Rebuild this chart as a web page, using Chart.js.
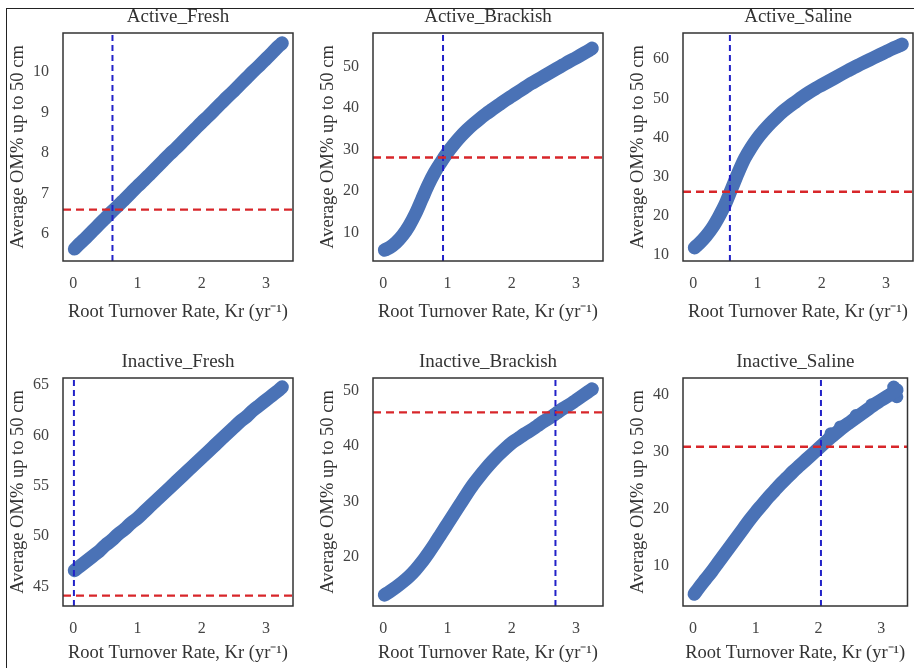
<!DOCTYPE html>
<html>
<head>
<meta charset="utf-8">
<script src="https://cdn.jsdelivr.net/npm/chart.js@4.4.1/dist/chart.umd.min.js"></script>
<style>
  body { margin: 0; background: #fff; }
  #fig { position: relative; width: 914px; height: 668px; overflow: hidden; }
  #frame { position: absolute; left: 6px; top: 8px; width: 960px; height: 700px;
           border-left: 1.5px solid #222; border-top: 1.5px solid #222; }
  canvas { position: absolute; }
</style>
</head>
<body>
<div id="fig">
  <div id="frame"></div>
</div>
<script>
// Root turnover rate (x), shared by all panels
const kr = [0.02, 0.1, 0.2, 0.3, 0.4, 0.5, 0.6, 0.7, 0.8, 0.9, 1.0, 1.1, 1.2, 1.3, 1.4, 1.5, 1.6,
            1.7, 1.8, 1.9, 2.0, 2.1, 2.2, 2.3, 2.4, 2.5, 2.6, 2.7, 2.8, 2.9, 3.0, 3.1, 3.2, 3.25];

// Average OM% up to 50 cm, one array per panel
const activeFresh = [5.63, 5.76, 5.91, 6.07, 6.23, 6.39, 6.55, 6.70, 6.86, 7.02, 7.18, 7.33, 7.49, 7.65,
                     7.81, 7.97, 8.12, 8.28, 8.44, 8.60, 8.76, 8.91, 9.07, 9.23, 9.39, 9.54, 9.70, 9.86,
                     10.02, 10.17, 10.33, 10.49, 10.65, 10.72];
const activeBrackish = [5.8, 6.4, 7.6, 9.3, 11.6, 14.5, 18.0, 21.5, 24.5, 27.0, 29.3, 31.3, 33.1, 34.7,
                        36.1, 37.4, 38.6, 39.7, 40.8, 41.9, 42.9, 43.9, 44.9, 45.9, 46.8, 47.7, 48.6,
                        49.5, 50.4, 51.3, 52.1, 53.0, 53.9, 54.4];
const activeSaline = [11.8, 13.0, 14.8, 17.0, 19.8, 23.0, 27.0, 31.0, 34.6, 37.4, 39.8, 41.8, 43.6, 45.2,
                      46.7, 48.0, 49.2, 50.4, 51.5, 52.5, 53.4, 54.3, 55.2, 56.1, 57.0, 57.9, 58.7, 59.5,
                      60.3, 61.1, 61.9, 62.7, 63.4, 63.8];
const inactiveFresh = [46.6, 47.0, 47.5, 48.0, 48.5, 49.1, 49.6, 50.2, 50.7, 51.3, 51.8, 52.4, 53.0, 53.6,
                       54.2, 54.8, 55.4, 56.0, 56.6, 57.2, 57.8, 58.4, 59.0, 59.6, 60.2, 60.8, 61.4, 61.9,
                       62.5, 63.0, 63.5, 64.0, 64.5, 64.8];
const inactiveBrackish = [13.2, 13.8, 14.6, 15.5, 16.5, 17.7, 19.1, 20.7, 22.4, 24.2, 26.0, 27.8, 29.6, 31.4,
                          33.1, 34.6, 36.0, 37.3, 38.5, 39.6, 40.6, 41.4, 42.2, 42.9, 43.7, 44.5, 45.2, 46.0,
                          46.8, 47.5, 48.3, 49.1, 49.9, 50.3];
const inactiveSaline = [5.0, 6.2, 7.6, 9.0, 10.5, 12.0, 13.5, 15.0, 16.5, 18.0, 19.4, 20.7, 22.0, 23.2,
                        24.4, 25.5, 26.6, 27.6, 28.6, 29.6, 30.6, 31.6, 32.6, 33.5, 34.4, 35.2, 36.0, 36.8,
                        37.6, 38.4, 39.1, 39.8, 40.5, 40.9];

// a few scattered runs standing off the main band (Inactive_Saline)
const salineSpreadKr = [2.2, 2.35, 2.6, 2.85, 3.2, 3.25];
const salineSpreadOM = [33.2, 34.4, 36.4, 38.3, 41.4, 39.7];

const panelTitles = ['Active_Fresh', 'Active_Brackish', 'Active_Saline',
                     'Inactive_Fresh', 'Inactive_Brackish', 'Inactive_Saline'];
const panelSeries = [activeFresh, activeBrackish, activeSaline, inactiveFresh, inactiveBrackish, inactiveSaline];

// dashed reference lines: red = OM level, blue = turnover rate
const refLevel = [6.6, 28.1, 26.1, 44.1, 46.1, 30.9];
const refRate = [0.61, 0.93, 0.57, 0.01, 2.68, 2.04];

const xTicks = [0, 1, 2, 3];
const yTicks = [
  [6, 7, 8, 9, 10],
  [10, 20, 30, 40, 50],
  [10, 20, 30, 40, 50, 60],
  [45, 50, 55, 60, 65],
  [20, 30, 40, 50],
  [10, 20, 30, 40]
];
const yRange = [[5.33, 10.97], [3.15, 58.1], [8.4, 66.7], [43.07, 65.7], [11.2, 52.3], [2.9, 43.0]];
const xRange = [-0.16, 3.42];

const xTitle = 'Root Turnover Rate, Kr (yr\u207B\u00B9)';
const yTitle = 'Average OM% up to 50 cm';

// page layout of the six canvases
const colLeft = [0, 310, 620];
const colWidth = [300, 300, 294];
const rowTop = [0, 345];
const rowHeight = [330, 323];
const xTitlePad = [7.2, 3.9];
const boxLeft = 63, boxTop = 33, boxW = 230, boxH = 228;

const serif = "'Liberation Serif', 'Times New Roman', serif";
const markBlue = '#4a72b6';

const axesFrame = {
  id: 'axesFrame',
  afterDatasetsDraw(chart) {
    const a = chart.chartArea, ctx = chart.ctx;
    ctx.save();
    ctx.strokeStyle = '#333';
    ctx.lineWidth = 1.5;
    ctx.strokeRect(a.left, a.top, a.right - a.left, a.bottom - a.top);
    ctx.restore();
  }
};

const fig = document.getElementById('fig');

panelTitles.forEach((title, i) => {
  const row = Math.floor(i / 3), col = i % 3;
  const canvas = document.createElement('canvas');
  canvas.width = colWidth[col];
  canvas.height = rowHeight[row];
  canvas.style.left = colLeft[col] + 'px';
  canvas.style.top = rowTop[row] + 'px';
  fig.appendChild(canvas);

  const [yMin, yMax] = yRange[i];
  const points = kr.map((x, k) => ({ x: x, y: panelSeries[i][k] }));

  const datasets = [
    {
      data: [{ x: xRange[0], y: refLevel[i] }, { x: xRange[1], y: refLevel[i] }],
      showLine: true, borderColor: '#d8262a', borderWidth: 2.4, borderDash: [8, 5],
      pointRadius: 0, clip: 0
    },
    {
      data: [{ x: refRate[i], y: yMin }, { x: refRate[i], y: yMax }],
      showLine: true, borderColor: '#2222c8', borderWidth: 2, borderDash: [6, 4],
      pointRadius: 0, clip: 0
    },
    {
      data: points,
      showLine: true, borderColor: markBlue, backgroundColor: markBlue,
      borderWidth: 13.5, borderCapStyle: 'round', borderJoinStyle: 'round',
      cubicInterpolationMode: 'monotone',
      pointRadius: 0, clip: 0
    }
  ];
  if (title === 'Inactive_Saline') {
    datasets.push({
      data: salineSpreadKr.map((x, k) => ({ x: x, y: salineSpreadOM[k] })),
      backgroundColor: markBlue, pointRadius: 6.5, pointBorderWidth: 0, clip: 0
    });
  }

  new Chart(canvas.getContext('2d'), {
    type: 'scatter',
    data: { datasets: datasets },
    options: {
      responsive: false,
      animation: false,
      events: [],
      layout: { padding: { left: 0, top: 0, bottom: 0, right: colWidth[col] - boxLeft - boxW } },
      plugins: {
        legend: { display: false },
        tooltip: { enabled: false },
        title: {
          display: true,
          text: title,
          fullSize: false,
          color: '#333',
          font: { family: serif, size: 19, weight: 'normal' },
          padding: { top: 6, bottom: boxTop - 6 - 19 * 1.2 }
        }
      },
      scales: {
        x: {
          type: 'linear',
          min: xRange[0],
          max: xRange[1],
          afterBuildTicks: s => { s.ticks = xTicks.map(v => ({ value: v })); },
          afterFit: s => { s.height = rowHeight[row] - boxTop - boxH; },
          grid: { display: false, drawTicks: false },
          border: { display: false },
          ticks: { padding: 13, color: '#444', font: { family: serif, size: 16 } },
          title: {
            display: true, text: xTitle, color: '#333',
            font: { family: serif, size: 18.5 },
            padding: { top: 0, bottom: xTitlePad[row] }
          }
        },
        y: {
          type: 'linear',
          min: yMin,
          max: yMax,
          afterBuildTicks: s => { s.ticks = yTicks[i].map(v => ({ value: v })); },
          afterFit: s => { s.width = boxLeft; },
          grid: { display: false, drawTicks: false },
          border: { display: false },
          ticks: { padding: 14, color: '#444', font: { family: serif, size: 16 } },
          title: {
            display: true, text: yTitle, color: '#333',
            font: { family: serif, size: 18.5 },
            padding: { top: 7.4, bottom: 0 }
          }
        }
      }
    },
    plugins: [axesFrame]
  });
});
</script>
</body>
</html>
